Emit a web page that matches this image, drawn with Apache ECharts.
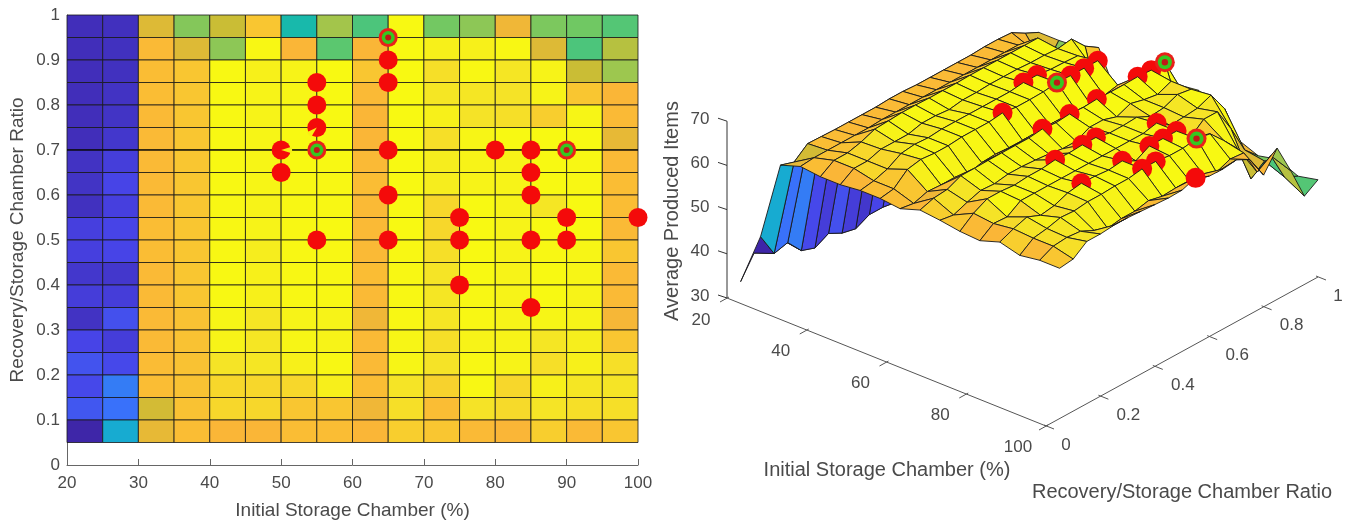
<!DOCTYPE html>
<html><head><meta charset="utf-8">
<style>html,body{margin:0;padding:0;background:#fff}#c{width:1356px;height:522px;filter:blur(0.45px)}</style>
<script src="https://cdn.jsdelivr.net/npm/echarts@6/dist/echarts.min.js"></script>
</head><body><div id="c"></div>
<script>
// ---------- data ----------
const storageValues = [20,25,30,35,40,45,50,55,60,65,70,75,80,85,90,95,100];
const ratioValues = [1,.95,.9,.85,.8,.75,.7,.65,.6,.55,.5,.45,.4,.35,.3,.25,.2,.15,.1,.05];
// average produced items; one row per ratio value (same order), one column per storage value
const producedItems = [
 [34,34,60,60,60.3,62,52,56,50,60.8,61.4,59.4,53.8,52,53,51,52],
 [33,33.2,61.5,55.5,60.5,64,48,57.5,52,67.6,54.5,56,62.5,55,54.3,52.5,50],
 [33,33.3,63.3,61.5,56,67.3,63,53,63,67.5,66.8,66.8,67.3,61.5,52,59,57.4],
 [33,33.3,63.5,64,67.4,66.8,67,67.7,64,67.7,65.5,67.3,66,67,60.5,57,64.2],
 [33,33.5,63.5,64,67.4,67,67.2,67.7,63.3,67.6,66,66,65.7,67,64,63,59.8],
 [33,33.6,63.3,64,67.4,67,67.3,67.7,63,67.6,66.8,65.7,65.5,64.5,67.2,63.3,65],
 [33,34,63.3,64,67.4,67.2,67.7,67.8,63,67.7,65.5,67.2,67.7,67.7,67.8,62,66.6],
 [33.5,34.8,63.3,64,67.4,67.2,67.7,67.4,63.3,67.5,66.5,67,67,67.7,67.3,63.3,66.2],
 [33.6,35.5,63.3,64,67.4,67.2,67.3,67.3,63.5,67.7,66.5,67,67,67.7,67.3,63.5,66.3],
 [33.3,35,63.3,64,67.3,67,67.3,67.3,63.3,67.4,65,67.7,67,66,67.7,63.5,67.6],
 [35,35.5,63.5,64,67.3,67,67.3,67.7,63.3,67.7,65,67.7,67,67.7,67.7,63.3,66.5],
 [35,35.5,63.5,64,67.3,66.5,67.3,67.3,63.3,67.3,65.5,67.5,67,67.3,67.2,64,66.4],
 [34,34,63.3,64,67.4,66.8,67.3,67.3,63.5,67.3,65.8,67.7,67,67.6,67.2,63.3,66.6],
 [34.7,34.7,63.3,64,67.4,66.8,67.3,67.3,63.3,67.3,66,67.3,67,67.7,67,63.3,66.8],
 [33.5,36.3,63.3,63.8,67.2,66,67,67,62.5,67.3,66,67.3,67,67.2,67,62.8,67],
 [35.5,34.7,63.3,63.8,67,66,67.2,67,63.3,67.2,65.5,67,67,66,66.6,64,67],
 [36.5,35.8,63.4,63.8,65.8,66,66.8,67.3,63.3,67.2,65.7,67.3,67,65.5,66.8,65.5,66.7],
 [35.8,39.3,63.5,63.8,65,65,65,66.7,63.5,65.8,64.7,67.3,65,66.8,66,65.8,66.7],
 [36.8,38.5,61,63.8,65,65,64,64,62.5,65.5,63.5,65.7,65.2,65.8,65.5,65.5,64.4],
 [32,44,62,63.5,63,63,63.5,63.5,63,64.5,64,63.3,63,64.5,63.3,64,64]
];
const redStorage = [50,50,55,55,55,55,65,65,65,65,65,75,75,75,80,85,85,85,85,85,90,90,100];
const redRatio   = [.7,.65,.85,.8,.75,.5,.9,.85,.7,.6,.5,.55,.5,.4,.7,.7,.65,.6,.5,.35,.55,.5,.55];
const redProduced= [67.7,67.7,67.7,67.7,67.7,67.7,67.5,67.7,67.7,67.7,67.7,67.7,67.7,67.7,67.7,67.7,67.7,67.7,67.7,67.7,67.7,67.7,67.6];
const bestStorage = [55,65,90];
const bestRatio   = [.7,.95,.7];
const bestProduced= [67.8,67.6,67.8];
const notchStorage = [50,55];
const notchRatio = [.7,.75];
const notchAngle = [0,2.4];
const tickStorage3d = [20,40,60,80,100];
const tickRatio3d = [0,.2,.4,.6,.8,1];
const tickProduced3d = [30,40,50,60,70];
const titleStorage = 'Initial Storage Chamber (%)';
const titleRatio = 'Recovery/Storage Chamber Ratio';
const titleProduced = 'Average Produced Items';

// parula colour map
const parula = ['#3e26a8','#4744e8','#3a70fb','#1ca7dd','#0bb5b8','#2cbf97','#5fc86b','#9bc750','#c8bd35','#fbb637','#f5e327','#f8f912'];
const parulaPos = [0,.1,.18,.3,.42,.5,.6,.7,.8,.875,.95,1];
const zLow = 32, zHigh = 67.5;
function colorOf(z){
  const v = Math.max(0,Math.min(1,(z-zLow)/(zHigh-zLow)));
  let k = 0; while(k<parulaPos.length-2 && v>parulaPos[k+1]) k++;
  const t = (v-parulaPos[k])/(parulaPos[k+1]-parulaPos[k]);
  return echarts.color.lerp(t,[parula[k],parula[k+1]]);
}
// 3-D view (orthographic) as seen in the figure
const view = {ox:727, oy:298, xx:319, xy:128, yx:272, yy:-149, zy:-4.42};
function project(x,y,z){
  const u=(x-20)/80;
  return [view.ox+u*view.xx+y*view.yx, view.oy+u*view.xy+y*view.yy+(z-30)*view.zy];
}
const textFont = '17px "Liberation Sans"';
const titleFont = '20px "Liberation Sans"';
const textCol = '#4a4a4a';

// left map cells
const mapCells=[];
for(let r=1;r<ratioValues.length;r++) for(let c=0;c<storageValues.length-1;c++)
  mapCells.push([storageValues[c],ratioValues[r],storageValues[c+1],ratioValues[r-1],producedItems[r][c]]);

// painter-ordered items for the surface
const items=[];
for(let r=1;r<ratioValues.length;r++) for(let c=0;c<storageValues.length-1;c++)
  items.push({k:c-(ratioValues.length-1-r)+1,kind:0,r,c});
redStorage.forEach((x,i)=>{
  const c=storageValues.indexOf(x), r=ratioValues.findIndex(v=>Math.abs(v-redRatio[i])<1e-6);
  items.push({k:c-(ratioValues.length-1-r)+1.5,kind:1,x,y:redRatio[i],z:redProduced[i]});
});
bestStorage.forEach((x,i)=>items.push({k:1e3,kind:2,x,y:bestRatio[i],z:bestProduced[i]}));
items.sort((a,b)=>a.k-b.k);

function renderSurface(params,api){
  const it=items[params.dataIndex];
  if(it.kind===0){
    const {r,c}=it;
    const pts=[[c,r],[c+1,r],[c+1,r-1],[c,r-1]].map(([a,b])=>
      api.coord(project(storageValues[a],ratioValues[b],producedItems[b][a])));
    return {type:'polygon',shape:{points:pts},style:{fill:colorOf(producedItems[r][c]),stroke:'rgba(25,25,25,.9)',lineWidth:1,lineJoin:'round'}};
  }
  const p=api.coord(project(it.x,it.y,it.z));
  if(it.kind===1) return {type:'circle',shape:{cx:p[0],cy:p[1],r:10},style:{fill:'#f40a0a'}};
  return {type:'group',children:[
    {type:'circle',shape:{cx:p[0],cy:p[1],r:10},style:{fill:'#e8201a'}},
    {type:'circle',shape:{cx:p[0],cy:p[1],r:7},style:{fill:'#35c820'}},
    {type:'circle',shape:{cx:p[0],cy:p[1],r:3.2},style:{fill:'#c01818'}}]};
}
function line(api,a,b,col){const p=api.coord(a),q=api.coord(b);
  return {type:'line',shape:{x1:p[0],y1:p[1],x2:q[0],y2:q[1]},style:{stroke:col,lineWidth:1}};}
function label(api,a,dx,dy,t){const p=api.coord(a);
  return {type:'text',style:{text:String(t),x:p[0]+dx,y:p[1]+dy,font:textFont,fill:textCol,align:'center',verticalAlign:'middle'}};}
function renderAxes3d(params,api){
  const ch=[], axc='#555';
  ch.push(line(api,project(20,0,30),project(100,0,30),axc));
  ch.push(line(api,project(100,0,30),project(100,1,30),axc));
  ch.push(line(api,[view.ox,view.oy],[view.ox,view.oy+40*view.zy],'#333'));
  tickStorage3d.forEach(x=>{const a=project(x,0,30);
    ch.push(line(api,[a[0]+2,a[1]-1],[a[0]-7,a[1]+4],axc));
    ch.push(label(api,a,x===100?-28:-26,x===20?22:21,x));});
  tickRatio3d.forEach(y=>{const a=project(100,y,30);
    ch.push(line(api,[a[0]-2,a[1]-1],[a[0]+8,a[1]+3],axc));
    ch.push(label(api,a,(y===0||y===1)?20:28,19,y));});
  tickProduced3d.forEach(z=>{const a=[view.ox,view.oy+(z-30)*view.zy];
    ch.push(line(api,a,[a[0]-9,a[1]-3],'#333'));
    ch.push(label(api,a,-27,-2,z));});
  return {type:'group',children:ch};
}

const option={
  animation:false,
  grid:[
    {left:67,width:571,top:15,height:450,outerBoundsMode:'none'},
    {left:0,top:0,width:1356,height:522,outerBoundsMode:'none'}
  ],
  xAxis:[
    {gridIndex:0,type:'value',min:20,max:100,interval:10,
     name:titleStorage,nameLocation:'middle',nameGap:36,nameTextStyle:{color:textCol,fontSize:19,fontFamily:'Liberation Sans'},
     axisLine:{lineStyle:{color:'#666'}},axisTick:{inside:true,length:6,lineStyle:{color:'#666'}},
     axisLabel:{color:textCol,fontSize:17,fontFamily:'Liberation Sans',margin:10},splitLine:{show:false}},
    {gridIndex:1,type:'value',min:0,max:1356,show:false}
  ],
  yAxis:[
    {gridIndex:0,type:'value',min:0,max:1,interval:.1,
     name:titleRatio,nameLocation:'middle',nameGap:40,nameTextStyle:{color:textCol,fontSize:19,fontFamily:'Liberation Sans'},
     axisLine:{show:true,lineStyle:{color:'#666'}},axisTick:{show:true,inside:true,length:6,lineStyle:{color:'#666'}},
     axisLabel:{color:textCol,fontSize:17,fontFamily:'Liberation Sans',margin:7},splitLine:{show:false}},
    {gridIndex:1,type:'value',min:0,max:522,inverse:true,show:false}
  ],
  graphic:[
    {type:'text',x:887,y:470,style:{text:titleStorage,font:titleFont,fill:textCol,align:'center',verticalAlign:'middle'}},
    {type:'text',x:1182,y:492,style:{text:titleRatio,font:titleFont,fill:textCol,align:'center',verticalAlign:'middle'}},
    {type:'text',x:672,y:211,rotation:Math.PI/2,style:{text:titleProduced,font:titleFont,fill:textCol,align:'center',verticalAlign:'middle'}}
  ],
  series:[
    {type:'custom',xAxisIndex:0,yAxisIndex:0,clip:false,z:2,data:mapCells,silent:true,
     encode:{x:[0,2],y:[1,3]},
     renderItem(params,api){
       const a=api.coord([api.value(0),api.value(1)]),b=api.coord([api.value(2),api.value(3)]);
       return {type:'rect',shape:{x:a[0],y:b[1],width:b[0]-a[0],height:a[1]-b[1]},
         style:{fill:colorOf(api.value(4)),stroke:'rgba(25,25,25,.8)',lineWidth:1}};
     }},
    {type:'line',xAxisIndex:0,yAxisIndex:0,z:3,symbol:'none',silent:true,lineStyle:{color:'#000',width:1.2},data:[[20,.7],[100,.7]]},
    {type:'scatter',xAxisIndex:0,yAxisIndex:0,z:4,symbolSize:19,itemStyle:{color:'#f40a0a',opacity:1},silent:true,clip:false,
     data:redStorage.map((x,i)=>[x,redRatio[i]])},
    {type:'custom',xAxisIndex:0,yAxisIndex:0,clip:false,z:4.5,silent:true,
     data:notchStorage.map((x,i)=>[x,notchRatio[i],notchAngle[i]]),
     renderItem(params,api){
       const p=api.coord([api.value(0),api.value(1)]),t=api.value(2);
       return {type:'sector',shape:{cx:p[0],cy:p[1],r0:0,r:11,startAngle:t-.3,endAngle:t+.3},style:{fill:'#f7f014'}};
     }},
    {type:'scatter',xAxisIndex:0,yAxisIndex:0,z:4,symbolSize:19,itemStyle:{color:'#e8201a',opacity:1},silent:true,
     data:bestStorage.map((x,i)=>[x,bestRatio[i]])},
    {type:'scatter',xAxisIndex:0,yAxisIndex:0,z:5,symbolSize:13,itemStyle:{color:'#35c820',opacity:1},silent:true,
     data:bestStorage.map((x,i)=>[x,bestRatio[i]])},
    {type:'scatter',xAxisIndex:0,yAxisIndex:0,z:6,symbolSize:6,itemStyle:{color:'#c01818',opacity:1},silent:true,
     data:bestStorage.map((x,i)=>[x,bestRatio[i]])},
    {type:'custom',xAxisIndex:1,yAxisIndex:1,clip:false,z:3,silent:true,data:[[0,0]],renderItem:renderAxes3d},
    {type:'custom',xAxisIndex:1,yAxisIndex:1,clip:false,z:4,silent:true,progressive:0,
     data:items.map((_,i)=>[i,0]),renderItem:renderSurface}
  ]
};
echarts.init(document.getElementById('c')).setOption(option);
</script></body></html>
